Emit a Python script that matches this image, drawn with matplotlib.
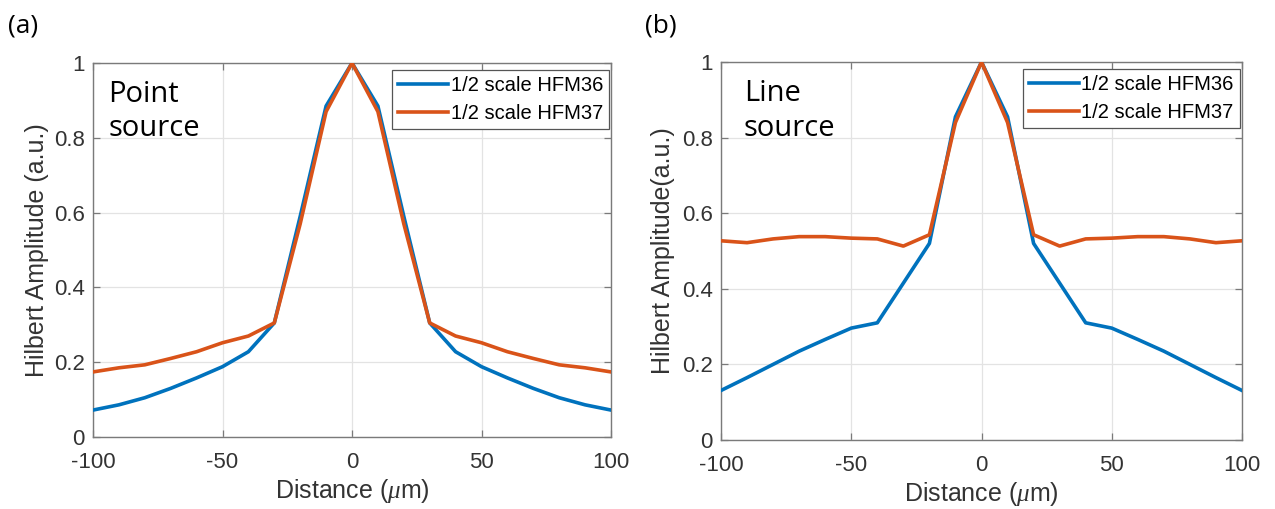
import matplotlib
matplotlib.use("Agg")
import matplotlib.pyplot as plt

# distance in um, sampled every 10 um
distance = [-100, -90, -80, -70, -60, -50, -40, -30, -20, -10, 0,
            10, 20, 30, 40, 50, 60, 70, 80, 90, 100]

# (a) point source
point_hfm36 = [0.072, 0.086, 0.105, 0.130, 0.158, 0.188, 0.228, 0.305, 0.590, 0.885, 1.0,
               0.885, 0.590, 0.305, 0.228, 0.188, 0.158, 0.130, 0.105, 0.086, 0.072]
point_hfm37 = [0.174, 0.185, 0.193, 0.210, 0.228, 0.252, 0.270, 0.305, 0.570, 0.870, 1.0,
               0.870, 0.570, 0.305, 0.270, 0.252, 0.228, 0.210, 0.193, 0.185, 0.174]

# (b) line source
line_hfm36 = [0.131, 0.165, 0.200, 0.235, 0.266, 0.296, 0.310, 0.415, 0.520, 0.855, 1.0,
              0.855, 0.520, 0.415, 0.310, 0.296, 0.266, 0.235, 0.200, 0.165, 0.131]
line_hfm37 = [0.527, 0.522, 0.532, 0.538, 0.538, 0.534, 0.532, 0.513, 0.543, 0.840, 1.0,
              0.840, 0.543, 0.513, 0.532, 0.534, 0.538, 0.538, 0.532, 0.522, 0.527]

series_names = ["1/2 scale HFM36", "1/2 scale HFM37"]
xticks = [-100, -50, 0, 50, 100]
yticks = [0, 0.2, 0.4, 0.6, 0.8, 1]
ytick_labels = ["0", "0.2", "0.4", "0.6", "0.8", "1"]

BLUE = "#0072BD"
ORANGE = "#D95319"
TXT = "#333333"

plt.rcParams["font.family"] = ["Liberation Sans", "DejaVu Sans"]
plt.rcParams["mathtext.fontset"] = "custom"
plt.rcParams["mathtext.it"] = "Liberation Serif:italic"

fig = plt.figure(figsize=(12.75, 5.09), dpi=100)


def draw_panel(rect, y36, y37, ylabel, note, note_x, tag, ylabel_x, tag_x):
    ax = fig.add_axes(rect)
    ax.plot(distance, y36, color=BLUE, lw=2.6, label=series_names[0], zorder=3)
    ax.plot(distance, y37, color=ORANGE, lw=2.6, label=series_names[1], zorder=3)
    ax.set_xlim(-100, 100)
    ax.set_ylim(0, 1)
    ax.set_xticks(xticks)
    ax.set_xticklabels([str(t) for t in xticks])
    ax.set_yticks(yticks)
    ax.set_yticklabels(ytick_labels)
    ax.grid(True, color="#e3e3e3", lw=0.9)
    ax.set_axisbelow(True)
    for s in ax.spines.values():
        s.set_color("#7a7a7a")
        s.set_linewidth(1.0)
    ax.tick_params(direction="in", length=5, width=0.9, color="#7a7a7a",
                   labelsize=16, labelcolor=TXT, top=True, right=True)
    ax.tick_params(axis="x", pad=11)
    ax.tick_params(axis="y", pad=6)
    ax.set_xlabel(r"Distance ($\mu$m)", fontsize=18, color=TXT, labelpad=3)
    ax.set_ylabel(ylabel, fontsize=18, color=TXT)
    ax.yaxis.set_label_coords(ylabel_x, 0.5)
    leg = ax.legend(loc="upper right", bbox_to_anchor=(0.996, 0.982),
                    fontsize=14.5, handlelength=2.5,
                    handletextpad=0.1, borderpad=0.3, labelspacing=0.45,
                    fancybox=False, framealpha=1, borderaxespad=0.0)
    leg.get_frame().set_edgecolor("#555555")
    leg.get_frame().set_linewidth(0.9)
    ax.text(note_x, 0.955, note, transform=ax.transAxes, ha="left", va="top",
            fontsize=21, family=["Open Sans", "DejaVu Sans"], color="black",
            linespacing=1.25)
    fig.text(tag_x, 0.949, tag, ha="left", va="center", fontsize=19,
             family=["Open Sans", "DejaVu Sans"], color="black")
    return ax


draw_panel([93 / 1275, 72 / 509, 518 / 1275, 374 / 509], point_hfm36, point_hfm37,
           "Hilbert Amplitude (a.u.)", "Point\nsource", 0.029, "(a)", -0.085, 8 / 1275)
draw_panel([721 / 1275, 69 / 509, 521 / 1275, 378 / 509], line_hfm36, line_hfm37,
           "Hilbert Amplitude(a.u.)", "Line\nsource", 0.044, "(b)", -0.088, 645 / 1275)

fig.savefig("out.png", dpi=100, facecolor="white")
